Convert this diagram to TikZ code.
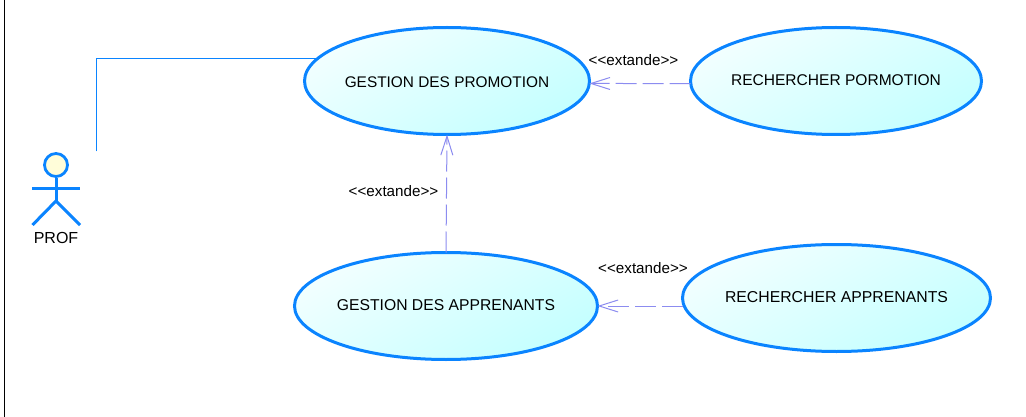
\documentclass[tikz,border=0pt]{standalone}
\usepackage{fontspec}
\setmainfont{Liberation Sans}
\usetikzlibrary{arrows.meta,shapes.geometric}
\definecolor{ublue}{HTML}{0A84FF}
\definecolor{dep}{HTML}{8C8CF0}
\definecolor{cyanA}{HTML}{F2FFFF}
\definecolor{cyanB}{HTML}{C4FFFF}
\tikzset{
 usecase/.style={ellipse,draw=ublue,line width=3pt,inner sep=0pt,outer sep=0pt,
   shading=axis,top color=cyanA,bottom color=cyanB,shading angle=30,text=black},
 assoc/.style={draw=ublue,line width=1.1pt},
 extendline/.style={draw=dep,line width=1pt,dash pattern=on 21pt off 6pt,
   -{Straight Barb[length=19pt,width=12pt,line width=1pt]}},
 lbl/.style={font=\fontsize{15.2}{17}\selectfont,text=black,inner sep=0pt},
 limb/.style={draw=ublue,line width=3pt},
}
\newcommand{\uctext}[2]{\raisebox{#1}[0pt][0pt]{\makebox[0pt]{#2}}}
\begin{document}
\begin{tikzpicture}[x=1pt,y=-1pt]
\useasboundingbox (0,0) rectangle (1026,417);
\fill[white] (0,0) rectangle (1026,417);
\draw[black,line width=1pt] (4.5,0) -- (4.5,417);
\node[usecase,minimum width=285pt,minimum height=107pt,font=\fontsize{15.4}{17}\selectfont] (e1) at (447,81) {\uctext{-6.5pt}{GESTION DES PROMOTION}};
\node[usecase,minimum width=291pt,minimum height=107pt,font=\fontsize{15.55}{17}\selectfont] (e2) at (836,81) {\uctext{-4.5pt}{RECHERCHER PORMOTION}};
\node[usecase,minimum width=303pt,minimum height=107pt,font=\fontsize{15.7}{17}\selectfont] (e3) at (446,306) {\uctext{-4.5pt}{GESTION DES APPRENANTS}};
\node[usecase,minimum width=308pt,minimum height=107pt,font=\fontsize{15.8}{17}\selectfont] (e4) at (836.5,298) {\uctext{-4.5pt}{RECHERCHER APPRENANTS}};
\node[circle,draw=ublue,line width=2.8pt,fill=yellow!15,minimum size=23pt,inner sep=0pt] (head) at (56,165) {};
\coordinate (hip) at (56,201);
\coordinate (armL) at (32,189);
\coordinate (armR) at (80,189);
\coordinate (legL) at (32.5,225);
\coordinate (legR) at (80,225);
\draw[limb] (head.south) -- (hip);
\draw[limb] (armL) -- (armR);
\draw[limb] (legL) -- (hip) -- (legR);
\node[lbl,font=\fontsize{16}{18}\selectfont] (prof) at (56,237.5) {PROF};
\coordinate (free) at (96.5,151.5);
\draw[assoc] (free) |- (e1.170.2);
\draw[extendline] (e2.181) -- (e1.359);
\draw[extendline] (e3.north) -- (e1.south);
\draw[extendline] (e3.east -| e4.west) -- (e3.east);
\node[lbl] (l1) at (633.5,60.5) {<{}<extande>{}>};
\node[lbl] (l2) at (393.5,191.5) {<{}<extande>{}>};
\node[lbl] (l3) at (643,268.5) {<{}<extande>{}>};
\end{tikzpicture}
\end{document}
